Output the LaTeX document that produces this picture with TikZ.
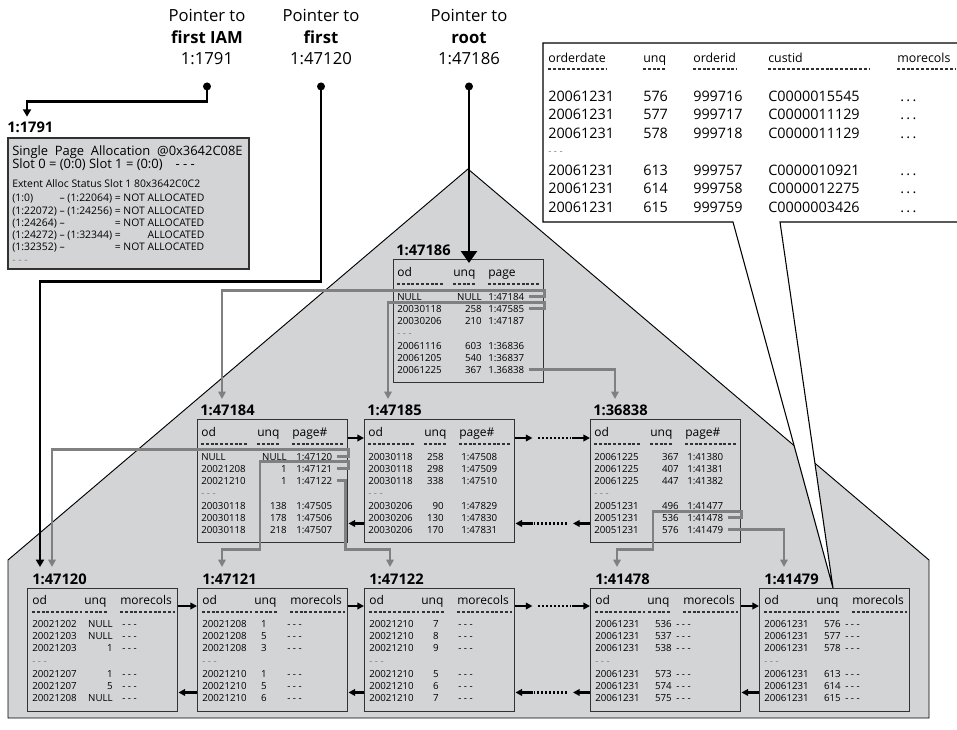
\documentclass[tikz,border=0pt]{standalone}
\usepackage{fontspec}
\setmainfont{Open Sans}
\usetikzlibrary{arrows.meta,positioning,calc}

\definecolor{housegray}{RGB}{211,212,214}
\definecolor{linkgray}{RGB}{128,128,128}
\definecolor{boxline}{RGB}{50,50,50}

\begin{document}
\begin{tikzpicture}[
  x=0.75pt, y=-0.75pt,
  house/.style={fill=housegray,draw=black,line width=0.7pt},
  callout/.style={fill=white,draw=black,line width=0.8pt},
  pagebox/.style={draw=boxline,fill=housegray,line width=1.1pt,anchor=north west,
    minimum width=112.5pt,minimum height=92.25pt,inner sep=0pt},
  iambox/.style={draw=boxline,fill=housegray,line width=1.3pt,anchor=north west,
    minimum width=180.75pt,minimum height=98.25pt,inner sep=0pt},
  pagelabel/.style={font=\bfseries\fontsize{11}{13}\selectfont,anchor=south west,inner sep=0pt},
  hdr/.style={font=\fontsize{9}{11}\selectfont,anchor=base west,inner sep=0pt},
  cell/.style={font=\fontsize{7.3}{9}\selectfont,anchor=base west,inner sep=0pt},
  ucell/.style={cell,anchor=base east},
  skip/.style={cell,text=gray},
  underline/.style={draw=boxline,line width=0.8pt,dash pattern=on 2.2pt off 1.4pt},
  link/.style={draw=linkgray,line width=1.8pt,-{Triangle[length=5.5pt,width=5.5pt]}},
  nav/.style={line width=1.6pt,-{Triangle[length=5pt,width=5pt]}},
  dotline/.style={line width=1.6pt,dash pattern=on 1.5pt off 1.5pt},
  ptr/.style={line width=1.9pt,-{Triangle[length=5.5pt,width=6pt]}},
  rootptr/.style={line width=1.9pt,-{Triangle[length=9pt,width=12pt]}},
  ptrdot/.style={circle,fill=black,minimum size=6pt,inner sep=0pt},
  ptrtext/.style={align=center,inner sep=0pt,font=\fontsize{12.5}{16}\selectfont},
  iamtext/.style={align=left,inner sep=0pt,anchor=north west,font=\fontsize{9.7}{9.9}\selectfont},
  iamsmall/.style={inner sep=0pt,anchor=north west,font=\fontsize{7.8}{9.2}\selectfont},
  thdr/.style={font=\fontsize{9.3}{11}\selectfont,anchor=base west,inner sep=0pt},
  tcell/.style={font=\fontsize{10.8}{13}\selectfont,anchor=base west,inner sep=0pt}
]
\useasboundingbox[fill=white] (0,0) rectangle (957,729);

% index tree area
\filldraw[house] (468,169) -- (929,560) -- (929,718) -- (8,718) -- (8,560) -- cycle;

% pointers
\node[ptrtext] (ptriam) at (207,37) {Pointer to\\\textbf{first IAM}\\1:1791};
\node[ptrtext] (ptrfirst) at (321,37) {Pointer to\\\textbf{first}\\1:47120};
\node[ptrtext] (ptrroot) at (469,37) {Pointer to\\\textbf{root}\\1:47186};
\node[ptrdot, below=13pt of ptriam] (diam) {};
\node[ptrdot, below=13pt of ptrfirst] (dfirst) {};
\node[ptrdot, below=13pt of ptrroot] (droot) {};

% IAM page
\node[iambox] (iam) at (7,137) {};
\node[pagelabel] (l1791) at ($(iam.north west)+(0,-4)$) {1:1791};
\node[iamtext] (iamhead) at ($(iam.north west)+(5,8)$)
  {Single\ \ Page\ \ Allocation\ \ @0x3642C08E\\Slot 0 = (0:0) Slot 1 = (0:0)\quad - - -};
\node[iamsmall] (iamext) at ($(iam.north west)+(5,42)$) {Extent Alloc Status Slot 1 80x3642C0C2};
\node[iamsmall] (iamtab) at ($(iam.north west)+(5,56)$) {%
  \begin{tabular}{@{}l@{ }l@{ }l@{ }r@{}}
  (1:0) & -- (1:22064) & = & NOT ALLOCATED\\
  (1:22072) & -- (1:24256) & = & NOT ALLOCATED\\
  (1:24264) & -- & = & NOT ALLOCATED\\
  (1:24272) & -- (1:32344) & = & ALLOCATED\\
  (1:32352) & -- & = & NOT ALLOCATED\\
  \textcolor{gray}{- - -}
  \end{tabular}};

% data rows of the last leaf page
\filldraw[callout] (733,222) -- (543,222) |- (958,43) |- (780,222) -- (833,588) -- cycle;
\node[thdr] (th1) at (548,62) {orderdate};
\node[thdr] (th2) at (643,62) {unq};
\node[thdr] (th3) at (693,62) {orderid};
\node[thdr] (th4) at (768,62) {custid};
\node[thdr] (th5) at (897,62) {morecols};
\draw[underline] (548,69) -- (607,69) (643,69) -- (665,69) (693,69) -- (737,69)
  (768,69) -- (870,69) (897,69) -- (955,69);
\node[skip] (tskip) at (548,154) {- - -};
\foreach \d/\u/\o/\c [count=\i] in {20061231/576/999716/C0000015545,
  20061231/577/999717/C0000011129,20061231/578/999718/C0000011129,
  20061231/613/999757/C0000010921,20061231/614/999758/C0000012275,
  20061231/615/999759/C0000003426}
{
  \pgfmathsetmacro\ry{101+18.5*(\i-1)+18.5*(\i>3)}
  \node[tcell] (td\i) at (548,\ry) {\d};
  \node[tcell] (tu\i) at (643,\ry) {\u};
  \node[tcell] (to\i) at (693,\ry) {\o};
  \node[tcell] (tc\i) at (768,\ry) {\c};
  \node[tcell] (tm\i) at (900,\ry) {.\,.\,.};
}

% root and intermediate pages
\foreach \n/\x/\y/\hd/\uqx/\pgx/\rows in {
  47186/393/259/page/89/95/{NULL/NULL/1:47184,20030118/258/1:47585,20030206/210/1:47187,20061116/603/1:36836,20061205/540/1:36837,20061225/367/1.36838},
  47184/197/419/page\#/90/99/{NULL/NULL/1:47120,20021208/1/1:47121,20021210/1/1:47122,20030118/138/1:47505,20030118/178/1:47506,20030118/218/1:47507},
  47185/364/419/page\#/80/97/{20030118/258/1:47508,20030118/298/1:47509,20030118/338/1:47510,20030206/90/1:47829,20030206/130/1:47830,20030206/170/1:47831},
  36838/590/419/page\#/89/97/{20061225/367/1:41380,20061225/407/1:41381,20061225/447/1:41382,20051231/496/1:41477,20051231/536/1:41478,20051231/576/1:41479}}
{
  \node[pagebox] (p\n) at (\x,\y) {};
  \node[pagelabel] (l\n) at ($(p\n.north west)+(3,-3)$) {1:\n};
  \node[hdr] (h\n-od) at ($(p\n.north west)+(4,17)$) {od};
  \node[hdr] (h\n-uq) at ($(p\n.north west)+(60,17)$) {unq};
  \node[hdr] (h\n-pg) at ($(p\n.north west)+(95,17)$) {\hd};
  \draw[underline] ($(p\n.north west)+(4,25)$) -- ++(46,0)
    ($(p\n.north west)+(60,25)$) -- ++(23,0)
    ($(p\n.north west)+(95,25)$) -- ++(52,0);
  \node[skip] (r\n-skip) at ($(p\n.north west)+(4,77)$) {- - -};
  \foreach \od/\uq/\pg [count=\i] in \rows {
    \pgfmathsetmacro\ry{41+12*(\i-1)+13*(\i>3)}
    \node[cell] (r\n-od\i) at ($(p\n.north west)+(4,\ry)$) {\od};
    \node[ucell] (r\n-uq\i) at ($(p\n.north west)+(\uqx,\ry)$) {\uq};
    \node[cell] (r\n-pg\i) at ($(p\n.north west)+(\pgx,\ry)$) {\pg};
  }
}

% leaf pages
\foreach \n/\x/\uqx/\dx/\rows in {
  47120/27/86/95/{20021202/NULL,20021203/NULL,20021203/1,20021207/1,20021207/5,20021208/NULL},
  47121/197/70/90/{20021208/1,20021208/5,20021208/3,20021210/1,20021210/5,20021210/6},
  47122/364/75/94/{20021210/7,20021210/8,20021210/9,20021210/5,20021210/6,20021210/7},
  41478/590/82/86/{20061231/536,20061231/537,20061231/538,20061231/573,20061231/574,20061231/575},
  41479/759/82/86/{20061231/576,20061231/577,20061231/578,20061231/613,20061231/614,20061231/615}}
{
  \node[pagebox] (p\n) at (\x,588) {};
  \node[pagelabel] (l\n) at ($(p\n.north west)+(5,-3)$) {1:\n};
  \node[hdr] (h\n-od) at ($(p\n.north west)+(5,16.5)$) {od};
  \node[hdr] (h\n-uq) at ($(p\n.north west)+(57,16.5)$) {unq};
  \node[hdr] (h\n-mc) at ($(p\n.north west)+(93,16.5)$) {morecols};
  \draw[underline] ($(p\n.north west)+(5,24)$) -- ++(50,0)
    ($(p\n.north west)+(58,24)$) -- ++(22,0)
    ($(p\n.north west)+(93,24)$) -- ++(55,0);
  \node[skip] (r\n-skip) at ($(p\n.north west)+(5,76)$) {- - -};
  \foreach \od/\uq [count=\i] in \rows {
    \pgfmathsetmacro\ry{39.5+12*(\i-1)+14*(\i>3)}
    \node[cell] (r\n-od\i) at ($(p\n.north west)+(5,\ry)$) {\od};
    \node[ucell] (r\n-uq\i) at ($(p\n.north west)+(\uqx,\ry)$) {\uq};
    \node[cell] (r\n-mc\i) at ($(p\n.north west)+(\dx,\ry)$) {- - -};
  }
}

% sibling chains
\foreach \a/\b/\h in {47184/47185/19,47120/47121/18,47121/47122/18,41478/41479/18} {
  \draw[nav] ($(p\a.north east)+(0,\h)$) -- ($(p\b.north west)+(0,\h)$);
  \draw[nav] ($(p\b.south west)+(0,-20)$) -- ($(p\a.south east)+(0,-20)$);
}
\foreach \a/\b/\h in {47185/36838/19,47122/41478/18} {
  \draw[nav] ($(p\a.north east)+(0,\h)$) -- ++(17,0);
  \draw[dotline] ($(p\a.north east)+(23,\h)$) -- ($(p\b.north west)+(-19,\h)$);
  \draw[nav] ($(p\b.north west)+(-18,\h)$) -- ($(p\b.north west)+(0,\h)$);
  \draw[nav] ($(p\b.south west)+(0,-20)$) -- ++(-17,0);
  \draw[dotline] ($(p\b.south west)+(-23,-20)$) -- ($(p\a.south east)+(19,-20)$);
  \draw[nav] ($(p\a.south east)+(18,-20)$) -- ($(p\a.south east)+(0,-20)$);
}

% child links
\draw[link] ([xshift=3pt]r47186-pg1.east) -- (r47186-pg1.east -| p47186.east) -- ++(0,-6)
  -| ($(p47184.north west)+(25,-20)$);
\draw[link] ([xshift=3pt]r47186-pg2.east) -- (r47186-pg2.east -| p47186.east) -- ++(0,-6)
  -| ($(p47185.north west)+(24,-20)$);
\draw[link] ([xshift=3pt]r47186-pg6.east) -| ($(p36838.north west)+(25,-20)$);
\draw[link] ([xshift=3pt]r47184-pg1.east) -- (r47184-pg1.east -| p47184.east) -- ++(0,-7)
  -| ($(p47120.north west)+(25,-21)$);
\draw[link] ([xshift=3pt]r47184-pg2.east) -- (r47184-pg2.east -| p47184.east) -- ++(0,-7)
  -| ($(p47184.south west)+(63,6)$) -| ($(p47121.north west)+(25,-21)$);
\draw[link] ([xshift=3pt]r47184-pg3.east) -| ($(p47184.south east)+(-3,6)$)
  -| ($(p47122.north west)+(26,-21)$);
\draw[link] ([xshift=3pt]r36838-pg5.east) -- (r36838-pg5.east -| p36838.east) -- ++(0,-6)
  -| ($(p36838.south west)+(63,6)$) -| ($(p41478.north west)+(27,-21)$);
\draw[link] ([xshift=3pt]r36838-pg6.east) -| ($(p41479.north west)+(25,-21)$);

% pointer lines
\draw[ptr] (diam.center) -- ++(0,15) -| ($(l1791.north west)+(20,-5)$);
\draw[ptr] (dfirst.center) -- ++(0,195) -| ($(p47120.north west)+(13,-21)$);
\draw[rootptr] (droot.center) -- ($(droot.center |- p47186.north)+(0,4)$);
\end{tikzpicture}
\end{document}
